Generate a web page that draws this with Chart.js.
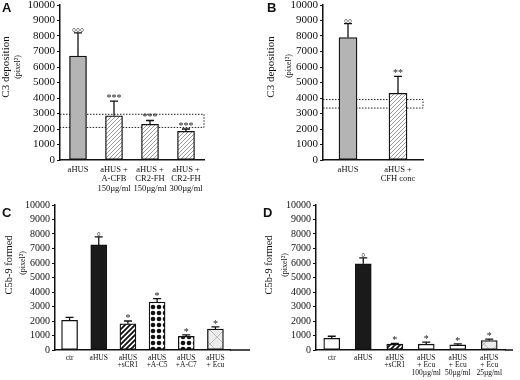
<!DOCTYPE html>
<html>
<head>
<meta charset="utf-8">
<script src="https://cdn.jsdelivr.net/npm/chart.js@4.4.1/dist/chart.umd.min.js"></script>
<style>
html, body { margin: 0; padding: 0; background: #fff; }
#wrap { position: relative; width: 520px; height: 380px; overflow: hidden; }
#wrap canvas { position: absolute; }
</style>
</head>
<body>
<div id="wrap">
  <canvas id="panelA" width="260" height="200" style="left:0;top:0"></canvas>
  <canvas id="panelB" width="260" height="200" style="left:260px;top:0"></canvas>
  <canvas id="panelC" width="260" height="190" style="left:0;top:190px"></canvas>
  <canvas id="panelD" width="260" height="190" style="left:260px;top:190px"></canvas>
</div>
<script>
// ---- data ----
const yTicksMax = 10000;

const catsA = ['aHUS', ['aHUS +', 'A-CFB', '150µg/ml'], ['aHUS +', 'CR2-FH', '150µg/ml'], ['aHUS +', 'CR2-FH', '300µg/ml']];
const valsA = [6700, 2850, 2300, 1850];
const errA = [8200, 3800, 2550, 2000];
const marksA = ['°°°', '***', '***', '***'];
const bandA = [2100, 2950];

const catsB = ['aHUS', ['aHUS +', 'CFH conc']];
const valsB = [7900, 4300];
const errB = [8800, 5400];
const marksB = ['°°', '**'];
const bandB = [3350, 3900];

const catsC = ['ctr', 'aHUS', ['aHUS', '+sCR1'], ['aHUS', '+A-C5'], ['aHUS', '+A-C7'], ['aHUS', '+ Ecu']];
const valsC = [2050, 7250, 1800, 3300, 950, 1450];
const errC = [2250, 7800, 2000, 3550, 1050, 1600];
const marksC = ['', '°', '*', '*', '*', '*'];

const catsD = ['ctr', 'aHUS', ['aHUS', '+sCR1'], ['aHUS', '+ Ecu', '100µg/ml'], ['aHUS', '+ Ecu', '50µg/ml'], ['aHUS', '+ Ecu', '25µg/ml']];
const valsD = [800, 5950, 400, 400, 350, 650];
const errD = [950, 6350, 450, 550, 420, 750];
const marksD = ['', '°', '*', '*', '*', '*'];

// ---- fills ----
function patternCanvas(size, bg) {
  const c = document.createElement('canvas');
  c.width = c.height = size;
  const g = c.getContext('2d');
  g.fillStyle = bg;
  g.fillRect(0, 0, size, size);
  return [c, g];
}
function hatch(color, gap, lw, bg) {
  const [c, g] = patternCanvas(gap, bg);
  g.strokeStyle = color;
  g.lineWidth = lw;
  g.beginPath();
  g.moveTo(0, gap); g.lineTo(gap, 0);
  g.moveTo(-gap / 2, gap / 2); g.lineTo(gap / 2, -gap / 2);
  g.moveTo(gap / 2, gap * 1.5); g.lineTo(gap * 1.5, gap / 2);
  g.stroke();
  return g.createPattern(c, 'repeat');
}
function dots() {
  const [c, g] = patternCanvas(6, '#fff');
  g.fillStyle = '#111';
  g.beginPath(); g.arc(3, 3, 2.3, 0, Math.PI * 2); g.fill();
  return g.createPattern(c, 'repeat');
}
function cross() {
  const [c, g] = patternCanvas(14, '#ececec');
  g.strokeStyle = '#bdbdbd';
  g.lineWidth = 1;
  g.beginPath();
  g.moveTo(0, 0); g.lineTo(14, 14);
  g.moveTo(14, 0); g.lineTo(0, 14);
  g.stroke();
  return g.createPattern(c, 'repeat');
}
const greyHatch = hatch('#9a9a9a', 4, 1, '#fff');
const blackStripe = hatch('#111', 5, 1.8, '#fff');
const fillsA = ['#b4b4b4', greyHatch, greyHatch, greyHatch];
const fillsB = ['#b4b4b4', greyHatch];
const fillsC = ['#fff', '#1a1a1a', blackStripe, dots(), dots(), cross()];
const fillsD = ['#fff', '#1a1a1a', blackStripe, '#fff', '#fff', cross()];

// ---- extras: error bars, significance marks, reference band, titles ----
const extras = {
  id: 'extras',
  beforeDatasetsDraw(chart, args, o) {
    if (!o.band) return;
    const ctx = chart.ctx, y = chart.scales.y, a = chart.chartArea;
    const y1 = y.getPixelForValue(o.band[0]), y2 = y.getPixelForValue(o.band[1]);
    const xr = a.right;
    ctx.save();
    ctx.strokeStyle = '#222';
    ctx.lineWidth = 1;
    ctx.setLineDash([1.5, 1.5]);
    ctx.beginPath();
    ctx.moveTo(a.left, y2); ctx.lineTo(xr, y2); ctx.lineTo(xr, y1); ctx.lineTo(a.left, y1);
    ctx.stroke();
    ctx.restore();
  },
  afterDatasetsDraw(chart, args, o) {
    const ctx = chart.ctx, y = chart.scales.y, a = chart.chartArea;
    const meta = chart.getDatasetMeta(0);
    ctx.save();
    ctx.strokeStyle = '#111';
    ctx.lineWidth = 1.3;
    ctx.fillStyle = '#222';
    ctx.textAlign = 'center';
    ctx.textBaseline = 'alphabetic';
    meta.data.forEach((bar, i) => {
      const e = y.getPixelForValue(o.err[i]);
      ctx.beginPath();
      ctx.moveTo(bar.x, bar.y); ctx.lineTo(bar.x, e);
      ctx.moveTo(bar.x - 4, e); ctx.lineTo(bar.x + 4, e);
      ctx.stroke();
      const m = o.marks[i];
      if (m) {
        const star = m[0] === '*';
        ctx.font = '10px "Liberation Serif", serif';
        ctx.fillText(m, bar.x, e + (star ? 0 : 3));
      }
    });
    if (o.extendAxis) {
      ctx.lineWidth = 1.5;
      ctx.beginPath();
      ctx.moveTo(a.right, a.bottom); ctx.lineTo(a.right + o.extendAxis, a.bottom);
      ctx.stroke();
    }
    // y title (two sizes) and panel letter
    ctx.textBaseline = 'middle';
    ctx.fillStyle = '#111';
    [[o.title, o.titlePos, o.titleSize], ['(pixel²)', o.subPos, 8]].forEach(([t, p, s]) => {
      ctx.save();
      ctx.translate(p[0], p[1]);
      ctx.rotate(-Math.PI / 2);
      ctx.font = s + 'px "Liberation Serif", serif';
      ctx.fillText(t, 0, 0);
      ctx.restore();
    });
    ctx.textAlign = 'left';
    ctx.textBaseline = 'top';
    ctx.font = 'bold 13px "Liberation Sans", Arial, sans-serif';
    ctx.fillText(o.letter, o.letterPos[0], o.letterPos[1]);
    ctx.restore();
  }
};

function makePanel(id, cats, vals, fills, cfg) {
  return new Chart(document.getElementById(id), {
    type: 'bar',
    data: {
      labels: cats,
      datasets: [{
        data: vals,
        backgroundColor: fills,
        borderColor: '#111',
        borderWidth: 1.3,
        borderSkipped: false,
        barThickness: cfg.barW
      }]
    },
    options: {
      animation: false,
      responsive: false,
      layout: { padding: { left: 0, top: cfg.top, right: cfg.right, bottom: 0 } },
      plugins: {
        legend: { display: false },
        tooltip: { enabled: false },
        extras: cfg.extras
      },
      scales: {
        x: {
          grid: { display: false, drawTicks: false },
          border: { color: '#111', width: 1.5 },
          ticks: {
            color: '#111',
            font: { family: '"Liberation Serif", serif', size: cfg.xFont, lineHeight: cfg.xLine },
            padding: cfg.xPad,
            maxRotation: 0,
            autoSkip: false
          },
          afterFit: s => { s.height = cfg.xH; s.paddingLeft = 0; s.paddingRight = 0; }
        },
        y: {
          min: 0,
          max: yTicksMax,
          grid: { display: true, drawOnChartArea: false, drawTicks: true, tickLength: 3, color: '#111' },
          border: { color: '#111', width: 1.5 },
          ticks: {
            stepSize: 1000,
            autoSkip: false,
            color: '#111',
            padding: 2,
            font: { family: '"Liberation Serif", serif', size: cfg.tickSize },
            callback: v => String(v)
          },
          afterFit: s => { s.width = cfg.yW; s.paddingTop = 0; s.paddingBottom = 0; }
        }
      }
    },
    plugins: [extras]
  });
}

makePanel('panelA', catsA, valsA, fillsA, {
  top: 5, right: 56, yW: 60, xH: 40, barW: 17, tickSize: 11, xFont: 8.5, xLine: 1.1, xPad: 5,
  extras: { err: errA, marks: marksA, band: bandA, title: 'C3 deposition', titleSize: 11,
            titlePos: [6, 67], subPos: [18, 67], letter: 'A', letterPos: [2, 2] }
});
makePanel('panelB', catsB, valsB, fillsB, {
  top: 5, right: 97, yW: 63, xH: 40, barW: 18, tickSize: 11, xFont: 8.5, xLine: 1.1, xPad: 5,
  extras: { err: errB, marks: marksB, band: bandB, title: 'C3 deposition', titleSize: 11,
            titlePos: [11, 67], subPos: [29, 66], letter: 'B', letterPos: [7, 2] }
});
makePanel('panelC', catsC, valsC, fillsC, {
  top: 15, right: 30, yW: 55, xH: 30, barW: 16, tickSize: 10, xFont: 7.5, xLine: 1.0, xPad: 4,
  extras: { err: errC, marks: marksC, extendAxis: 20, title: 'C5b-9 formed', titleSize: 10.5,
            titlePos: [9, 75], subPos: [23, 73], letter: 'C', letterPos: [2, 17] }
});
makePanel('panelD', catsD, valsD, fillsD, {
  top: 15, right: 15, yW: 56, xH: 30, barW: 16, tickSize: 10, xFont: 7.5, xLine: 1.0, xPad: 4,
  extras: { err: errD, marks: marksD, extendAxis: 8, title: 'C5b-9 formed', titleSize: 10.5,
            titlePos: [9, 75], subPos: [25, 75], letter: 'D', letterPos: [3, 17] }
});
</script>
</body>
</html>
